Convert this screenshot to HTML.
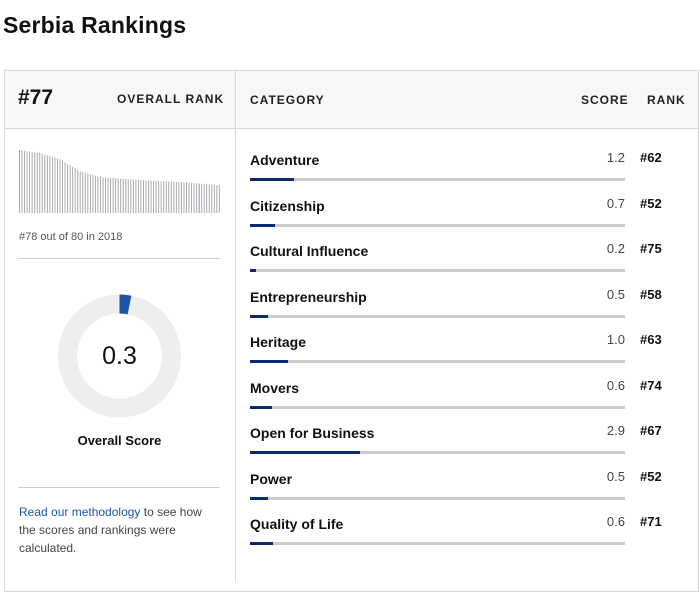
<!DOCTYPE html>
<html><head><meta charset="utf-8"><style>
body{margin:0;width:700px;height:579px;background:#fff;font-family:"Liberation Sans",sans-serif;color:#111;position:relative;overflow:hidden}
.a{position:absolute}
h1{position:absolute;left:3px;top:12px;margin:0;font-size:23px;font-weight:bold;letter-spacing:0.2px}
.hdr{font-size:12px;font-weight:bold;letter-spacing:1px;color:#222}
.lbl{position:absolute;left:250px;font-size:14px;font-weight:bold;color:#111}
.sc{position:absolute;right:75px;font-size:13px;color:#444;text-align:right}
.rk{position:absolute;left:640px;font-size:13px;font-weight:bold;color:#111}
.tr{position:absolute;left:250px;width:375px;height:3px;background:#ccc}
.fl{position:absolute;left:0;top:0;height:3px;background:#0d2a6b}
</style></head><body>
<h1>Serbia Rankings</h1>
<div class="a" style="left:4px;top:70px;width:693px;height:520px;border:1px solid #d8d8d8"></div>
<div class="a" style="left:5px;top:71px;width:693px;height:57px;background:#f7f7f7;border-bottom:1px solid #d8d8d8"></div>
<div class="a" style="left:235px;top:71px;width:1px;height:510px;background:#d8d8d8"></div>
<div class="a" style="left:18px;top:86px;font-size:21px;font-weight:bold">#77</div>
<div class="a hdr" style="left:117px;top:92px">OVERALL RANK</div>
<div class="a hdr" style="left:250px;top:93px">CATEGORY</div>
<div class="a hdr" style="left:581px;top:93px">SCORE</div>
<div class="a hdr" style="left:647px;top:93px">RANK</div>
<svg class="a" style="left:0;top:0" width="240" height="579" id="sv">
<circle cx="119.5" cy="356" r="52" fill="none" stroke="#eeeeee" stroke-width="19"/>
<path d="M119.5 304 A52 52 0 0 1 129.5 305" fill="none" stroke="#1f56a8" stroke-width="19"/>
<line x1="18" y1="258.5" x2="220" y2="258.5" stroke="#ccc"/>
<line x1="18" y1="487.5" x2="220" y2="487.5" stroke="#ccc"/>
</svg>
<div class="a" style="left:19px;top:231px;font-size:11px;color:#555">#78 out of 80 in 2018</div>
<div class="a" style="left:0;width:239px;top:342px;text-align:center;font-size:25px">0.3</div>
<div class="a" style="left:0;width:239px;top:433px;text-align:center;font-size:13px;font-weight:bold">Overall Score</div>
<div class="a" style="left:19px;top:503px;font-size:12px;color:#444;line-height:18px;width:195px"><span style="color:#1f56a8">Read our methodology</span> to see how the scores and rankings were calculated.</div>
<div id="rows"></div>
<script>
var s=document.getElementById('sv'),ns='http://www.w3.org/2000/svg';
var P=[[0,150],[0.1,153],[0.2,159],[0.25,165],[0.3,171],[0.35,174],[0.4,177],[0.6,180],[0.8,182],[1,185]];
function yy(t){for(var k=1;k<P.length;k++){if(t<=P[k][0]){var a=P[k-1],b=P[k];return a[1]+(b[1]-a[1])*(t-a[0])/(b[0]-a[0]);}}return 185;}
for(var i=0;i<80;i++){var x=19.5+i*2.53;var t=i/79;
var l=document.createElementNS(ns,'line');l.setAttribute('x1',x);l.setAttribute('x2',x);l.setAttribute('y1',yy(t));l.setAttribute('y2',213);
l.setAttribute('stroke',i==71?'#6f95c4':'#aaaaaa');l.setAttribute('stroke-width','1');s.appendChild(l);}
var d=[["Adventure","1.2","#62",44],["Citizenship","0.7","#52",25],["Cultural Influence","0.2","#75",6],["Entrepreneurship","0.5","#58",18],["Heritage","1.0","#63",38],["Movers","0.6","#74",22],["Open for Business","2.9","#67",110],["Power","0.5","#52",18],["Quality of Life","0.6","#71",23]];
var h='';d.forEach(function(r,i){var y=152+i*45.5;
h+='<div class="lbl" style="top:'+y+'px">'+r[0]+'</div><div class="sc" style="top:'+(y-2)+'px">'+r[1]+'</div><div class="rk" style="top:'+(y-2)+'px">'+r[2]+'</div><div class="tr" style="top:'+(y+26)+'px"><div class="fl" style="width:'+r[3]+'px"></div></div>';});
document.getElementById('rows').innerHTML=h;
</script>
</body></html>
